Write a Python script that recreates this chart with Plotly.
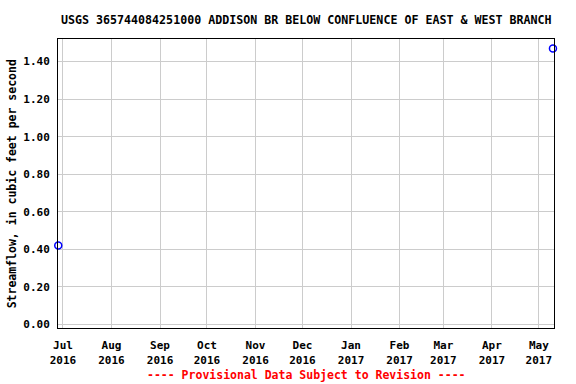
import plotly.graph_objects as go

dates = ["2016-06-28", "2017-05-10"]
flow = [0.42, 1.47]
tick_dates = ["2016-07-01", "2016-08-01", "2016-09-01", "2016-10-01", "2016-11-01",
              "2016-12-01", "2017-01-01", "2017-02-01", "2017-03-01", "2017-04-01", "2017-05-01"]
tick_text = ["Jul<br>2016", "Aug<br>2016", "Sep<br>2016", "Oct<br>2016", "Nov<br>2016",
             "Dec<br>2016", "Jan<br>2017", "Feb<br>2017", "Mar<br>2017", "Apr<br>2017", "May<br>2017"]
y_ticks = [0.0, 0.2, 0.4, 0.6, 0.8, 1.0, 1.2, 1.4]

FONT = "DejaVu Sans Mono"

fig = go.Figure()
fig.add_trace(go.Scatter(
    x=dates, y=flow, mode="markers",
    marker=dict(symbol="circle-open", size=7, color="#0000ff", line=dict(width=1.5, color="#0000ff")),
    cliponaxis=False, showlegend=False,
))

fig.update_layout(
    width=576, height=384,
    margin=dict(l=58, r=22, t=39, b=56),
    paper_bgcolor="white", plot_bgcolor="white",
    font=dict(family=FONT, size=11, color="black", weight="bold"),
    xaxis=dict(
        type="date",
        range=["2016-06-27 20:00", "2017-05-10 16:00"],
        tickvals=tick_dates, ticktext=tick_text,
        showgrid=True, gridcolor="#cccccc", gridwidth=1,
        showline=True, linecolor="black", linewidth=1, mirror=True,
        ticks="", zeroline=False, ticklabelstandoff=7,
        tickfont=dict(family=FONT, size=11, weight="bold"),
    ),
    yaxis=dict(
        range=[-0.019, 1.52],
        tickvals=y_ticks, tickformat=".2f",
        showgrid=True, gridcolor="#cccccc", gridwidth=1,
        showline=True, linecolor="black", linewidth=1, mirror=True,
        ticks="", zeroline=False, ticklabelstandoff=5,
        tickfont=dict(family=FONT, size=11, weight="bold"),
    ),
    annotations=[
        dict(text="USGS 365744084251000 ADDISON BR BELOW CONFLUENCE OF EAST & WEST BRANCH",
             xref="paper", yref="paper", x=0.5, y=1, yshift=19, xanchor="center", yanchor="middle",
             showarrow=False, font=dict(family=FONT, size=11.65, weight="bold", color="black")),
        dict(text="Streamflow, in cubic feet per second",
             xref="paper", yref="paper", x=-0.093, y=0.5, textangle=-90,
             xanchor="center", yanchor="middle",
             showarrow=False, font=dict(family=FONT, size=11.5, weight="bold", color="black")),
        dict(text="---- Provisional Data Subject to Revision ----",
             xref="paper", yref="paper", x=0.5, y=0, yshift=-47, xanchor="center", yanchor="middle",
             showarrow=False, font=dict(family=FONT, size=11.5, weight="bold", color="red")),
    ],
)

fig.write_html("out.html")
